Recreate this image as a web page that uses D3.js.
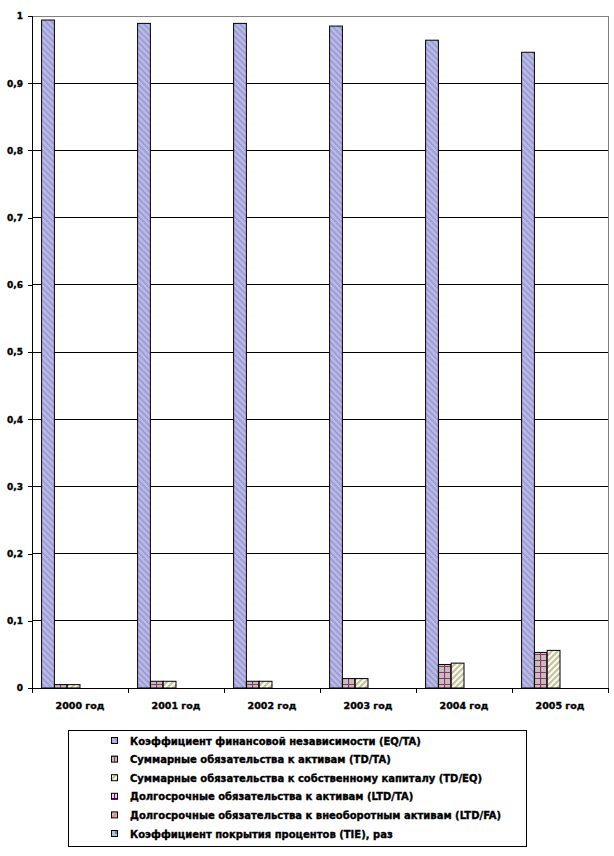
<!DOCTYPE html>
<html><head><meta charset="utf-8">
<script src="https://cdn.jsdelivr.net/npm/d3@7"></script>
<style>body{margin:0;background:#fff}svg{display:block}</style>
</head><body>
<svg id="c" width="614" height="856"></svg>
<script>
const categories = ["2000 год","2001 год","2002 год","2003 год","2004 год","2005 год"];
const seriesNames = [
  "Коэффициент финансовой независимости (EQ/TA)",
  "Суммарные обязательства к активам (TD/TA)",
  "Суммарные обязательства к собственному капиталу (TD/EQ)",
  "Долгосрочные обязательства к активам (LTD/TA)",
  "Долгосрочные обязательства к внеоборотным активам (LTD/FA)",
  "Коэффициент покрытия процентов (TIE), раз"
];
const eqTa  = [0.994, 0.989, 0.989, 0.985, 0.964, 0.946];
const tdTa  = [0.005, 0.010, 0.010, 0.014, 0.035, 0.053];
const tdEq  = [0.005, 0.010, 0.010, 0.014, 0.037, 0.056];
const ltdTa = [0, 0, 0, 0, 0, 0];
const ltdFa = [0, 0, 0, 0, 0, 0];
const tie   = [0, 0, 0, 0, 0, 0];
const yTickValues = [0,0.1,0.2,0.3,0.4,0.5,0.6,0.7,0.8,0.9,1];
const yTickLabels = ["0","0,1","0,2","0,3","0,4","0,5","0,6","0,7","0,8","0,9","1"];

const seriesValues = [eqTa, tdTa, tdEq, ltdTa, ltdFa, tie];
const svg = d3.select("#c");
const font = "'DejaVu Sans', sans-serif";

// patterns
const defs = svg.append("defs");
function diag(id, bg, fg, dir) {
  const p = defs.append("pattern").attr("id", id).attr("patternUnits","userSpaceOnUse")
    .attr("width",6).attr("height",6);
  p.append("rect").attr("width",6).attr("height",6).attr("fill",bg);
  const d = dir > 0 ? "M-1,1 L1,-1 M0,6 L6,0 M5,7 L7,5" : "M-1,5 L1,7 M0,0 L6,6 M5,-1 L7,1";
  p.append("path").attr("d",d).attr("stroke",fg).attr("stroke-width",2);
}
function grid(id, bg, fg) {
  const p = defs.append("pattern").attr("id", id).attr("patternUnits","userSpaceOnUse")
    .attr("width",6).attr("height",6);
  p.append("rect").attr("width",6).attr("height",6).attr("fill",bg);
  p.append("path").attr("d","M0,0.5 H6 M0.5,0 V6").attr("stroke",fg).attr("stroke-width",1.2);
}
diag("p0","#C0C0C0","#9999FF",-1);
grid("p1","#C0C0C0","#993366");
diag("p2","#C0C0C0","#FFFFCC",1);
grid("p3","#FFCCFF","#660066");
diag("p4","#C0C0C0","#FF8080",1);
const p5 = defs.append("pattern").attr("id","p5").attr("patternUnits","userSpaceOnUse").attr("width",6).attr("height",6);
p5.append("rect").attr("width",6).attr("height",6).attr("fill","#C0C0C0");
p5.append("path").attr("d","M2,2 V7").attr("stroke","#0066CC").attr("stroke-width",1.2);

const x0 = d3.scaleBand().domain(categories).range([32, 608]).padding(0);
const x1 = d3.scaleBand().domain(d3.range(6)).range([0, x0.bandwidth()]).paddingInner(0).paddingOuter(0.75);
const y = d3.scaleLinear().domain([0,1]).range([688,16]);

// gridlines
svg.append("g").selectAll("line").data(yTickValues.slice(1,-1)).join("line")
  .attr("x1",32).attr("x2",608).attr("y1",d=>y(d)).attr("y2",d=>y(d))
  .attr("stroke","#000").attr("stroke-width",1).attr("shape-rendering","crispEdges");
// plot border top/right
svg.append("path").attr("d",`M32,${y(1)} H608 V688`).attr("fill","none")
  .attr("stroke","#808080").attr("shape-rendering","crispEdges");

// bars
const g = svg.append("g");
seriesValues.forEach((vals, si) => {
  g.append("g").selectAll("rect").data(vals.map((v,i)=>({v,c:categories[i]})).filter(d=>d.v>0)).join("rect")
    .attr("x", d => x0(d.c) + x1(si))
    .attr("y", d => y(d.v))
    .attr("width", x1.bandwidth())
    .attr("height", d => y(0) - y(d.v))
    .attr("fill", `url(#p${si})`)
    .attr("stroke","#000").attr("stroke-width",1);
});

function heavy(sel, size) {
  sel.attr("font-family",font).attr("font-weight","bold").attr("font-size",size)
    .attr("fill","#000").attr("stroke","#000").attr("stroke-width",0.35);
}

// y axis
const yAxis = d3.axisLeft(y).tickValues(yTickValues).tickSize(4)
  .tickFormat((d,i)=>yTickLabels[i]);
const ya = svg.append("g").attr("transform","translate(32,0)").call(yAxis);
ya.select(".domain").attr("d","M0,16 V688").attr("shape-rendering","crispEdges");
ya.selectAll(".tick line").attr("shape-rendering","crispEdges");
heavy(ya.selectAll("text"), "9px");
ya.selectAll("text").attr("x",-9);

// x axis
const xa = svg.append("g").attr("transform","translate(0,688)")
  .call(d3.axisBottom(x0).tickSize(0).tickSizeOuter(0));
xa.select(".domain").attr("d","M32,0.5 H608").attr("stroke","#000");
heavy(xa.selectAll("text"), "9.5px");
xa.selectAll("text").attr("dy",0).attr("y",21);
xa.append("g").selectAll("line").data(categories.concat([null])).join("line")
  .attr("x1",(d,i)=>32 + i*x0.step()).attr("x2",(d,i)=>32 + i*x0.step())
  .attr("y1",0).attr("y2",5).attr("stroke","#000").attr("shape-rendering","crispEdges");

// legend
const lg = svg.append("g");
lg.append("rect").attr("x",68.5).attr("y",730.5).attr("width",458).attr("height",116)
  .attr("fill","#fff").attr("stroke","#000");
seriesNames.forEach((n,i)=>{
  const cy = 741 + i*18.6;
  lg.append("rect").attr("x",111.5).attr("y",cy-3.5).attr("width",6).attr("height",6)
    .attr("fill",`url(#p${i})`).attr("stroke","#000");
  const t = lg.append("text").attr("x",130).attr("y",cy+3.5).text(n);
  heavy(t, "10px");
});
</script>
</body></html>
